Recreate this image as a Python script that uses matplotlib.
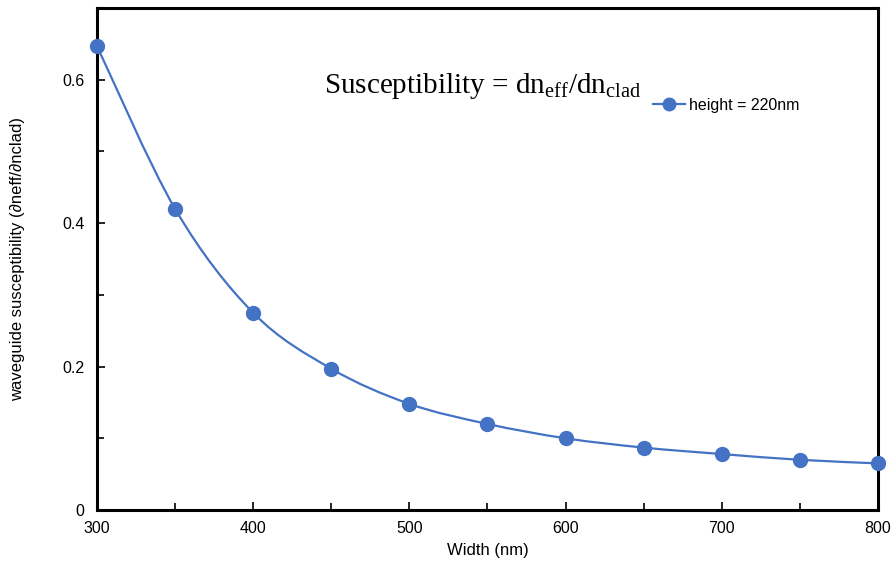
import matplotlib
matplotlib.use("Agg")
import matplotlib.pyplot as plt
from matplotlib.path import Path
from matplotlib.patches import PathPatch
from matplotlib.lines import Line2D
import numpy as np

plt.rcParams['font.family'] = ['Liberation Sans', 'DejaVu Sans']

width_nm = [300, 350, 400, 450, 500, 550, 600, 650, 700, 750, 800]
susceptibility = [0.647, 0.420, 0.275, 0.197, 0.148, 0.120, 0.100, 0.087, 0.078, 0.070, 0.065]

blue = '#4472C4'


def smooth_path(xs, ys):
    # cubic bezier through each point (Catmull-Rom style control points)
    pts = np.column_stack([xs, ys]).astype(float)
    n = len(pts)
    verts = [pts[0]]
    codes = [Path.MOVETO]
    for i in range(n - 1):
        p0 = pts[i - 1] if i > 0 else pts[i]
        p1 = pts[i]
        p2 = pts[i + 1]
        p3 = pts[i + 2] if i + 2 < n else pts[i + 1]
        c1 = p1 + (p2 - p0) / 6.0
        c2 = p2 - (p3 - p1) / 6.0
        verts += [c1, c2, p2]
        codes += [Path.CURVE4] * 3
    return Path(verts, codes)


fig = plt.figure(figsize=(8.92, 5.69), dpi=100)
ax = fig.add_axes([0.1087, 0.1037, 0.8756, 0.8822])

ax.add_patch(PathPatch(smooth_path(width_nm, susceptibility), facecolor='none',
                       edgecolor=blue, linewidth=1.6, zorder=2))
ax.plot(width_nm, susceptibility, linestyle='none', marker='o', markersize=10,
        color=blue, zorder=3, clip_on=False)

ax.set_xlim(300, 800)
ax.set_ylim(0, 0.7)
ax.set_xticks([300, 400, 500, 600, 700, 800])
ax.set_xticks(np.arange(300, 801, 50), minor=True)
ax.set_yticks([0, 0.2, 0.4, 0.6])
ax.set_yticklabels(['0', '0.2', '0.4', '0.6'])
ax.set_yticks(np.arange(0, 0.71, 0.1), minor=True)
ax.tick_params(which='both', direction='in', width=1.2, labelsize=11.5, color='black')
ax.tick_params(which='major', length=6)
ax.tick_params(which='minor', length=5)
ax.tick_params(axis='x', pad=8)
ax.tick_params(axis='y', pad=9)
for s in ax.spines.values():
    s.set_linewidth(2.2)

ax.set_xlabel('Width (nm)', fontsize=12, labelpad=5)
ax.set_ylabel('waveguide susceptibility (∂neff/∂nclad)', fontsize=12, labelpad=27)

ax.text(0.291, 0.845, r'Susceptibility = dn$_{\mathregular{eff}}$/dn$_{\mathregular{clad}}$',
        transform=ax.transAxes, fontsize=21, family='Liberation Serif', va='center')

handle = Line2D([], [], color=blue, marker='o', markersize=9, linewidth=1.6)
ax.legend([handle], ['height = 220nm'], loc='center left', bbox_to_anchor=(0.694, 0.806),
          frameon=False, fontsize=11.5, handlelength=2.0, handletextpad=0.2)

fig.savefig('out.png', dpi=100)
